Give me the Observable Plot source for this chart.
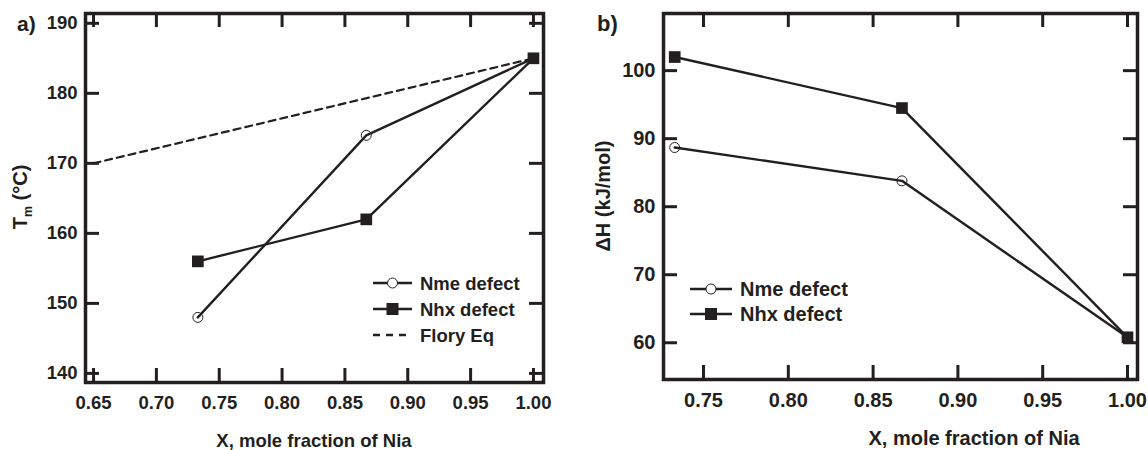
<!DOCTYPE html>
<html><head><meta charset="utf-8">
<script src="https://cdn.jsdelivr.net/npm/d3@7"></script>
<script src="https://cdn.jsdelivr.net/npm/@observablehq/plot@0.6"></script>
<style>
body{margin:0;background:#fff;}
#wrap{display:flex;width:1148px;height:450px;}
.panel{position:relative;width:574px;height:450px;}
.panel svg{display:block;}
</style></head><body>
<div id="wrap"><div class="panel" id="pa"></div><div class="panel" id="pb"></div></div>
<script>
// ---- data ----
const xMole = [0.733, 0.867, 1.0];
const tmNme = [148, 174, 185];
const tmNhx = [156, 162, 185];
const floryX = [0.65, 1.0];
const floryTm = [170, 185];
const dhNme = [88.7, 83.8, 60.8];
const dhNhx = [102, 94.5, 60.8];
const xTicksA = [0.65, 0.70, 0.75, 0.80, 0.85, 0.90, 0.95, 1.00];
const yTicksA = [140, 150, 160, 170, 180, 190];
const xTicksB = [0.75, 0.80, 0.85, 0.90, 0.95, 1.00];
const yTicksB = [60, 70, 80, 90, 100];
const namesA = ["Nme defect", "Nhx defect", "Flory Eq"];
const namesB = ["Nme defect", "Nhx defect"];
const xTitle = "X, mole fraction of Nia";
const panelLabels = ["a)", "b)"];

const ink = "#231f20";
const FONT = "'Liberation Sans', Arial, sans-serif";
const TL = 14; // inward tick length

function rows(xs, ys) { return xs.map((x, i) => ({x, y: ys[i]})); }

function frameAxes(xt, yt, fs, fw, fh) {
  const fmt = d3.format(".2f");
  const tk = {stroke: ink, strokeWidth: 3};
  return [
    Plot.axisX(xt, {anchor: "bottom", tickSize: 0, tickPadding: 13, tickFormat: fmt, label: null, fontSize: fs, fontWeight: "bold", fill: ink}),
    Plot.axisY(yt, {anchor: "left", tickSize: 0, tickPadding: 8, label: null, fontSize: fs, fontWeight: "bold", fill: ink}),
    Plot.tickX(xt, {x: d => d, insetTop: fh - TL, ...tk}),
    Plot.tickX(xt, {x: d => d, insetBottom: fh - TL, ...tk}),
    Plot.tickY(yt, {y: d => d, insetRight: fw - TL, ...tk}),
    Plot.tickY(yt, {y: d => d, insetLeft: fw - TL, ...tk}),
    Plot.frame({stroke: ink, strokeWidth: 3.5, fill: "none"})
  ];
}

function legend(svg, names, x0, x1, tx, ys, fs) {
  const g = d3.select(svg).append("g");
  names.forEach((name, i) => {
    const y = ys[i];
    const ln = g.append("line").attr("x1", x0).attr("x2", x1).attr("y1", y).attr("y2", y)
      .attr("stroke", ink).attr("stroke-width", 2.4);
    const cx = (x0 + x1) / 2;
    if (i === 0) {
      g.append("circle").attr("cx", cx).attr("cy", y).attr("r", 5).attr("fill", "white").attr("stroke", ink).attr("stroke-width", 1);
    } else if (i === 1) {
      g.append("rect").attr("x", cx - 6).attr("y", y - 6).attr("width", 12).attr("height", 12).attr("fill", ink);
    } else {
      ln.attr("stroke-dasharray", "7,6");
    }
    g.append("text").attr("x", tx).attr("y", y).attr("dy", "0.36em").attr("text-anchor", "start")
      .attr("font-size", fs).attr("font-weight", "bold")
      .attr("font-family", FONT).attr("fill", ink).text(name);
  });
}

function addTitles(svg, label, lx, ly, lfs, ytParts, ytx, yty, yfs, xcx, xty, xfs) {
  const s = d3.select(svg);
  s.append("text").attr("x", lx).attr("y", ly).attr("text-anchor", "start").attr("font-size", lfs).attr("font-weight", "bold")
    .attr("font-family", FONT).attr("fill", ink).text(label);
  const t = s.append("text").attr("transform", `translate(${ytx},${yty}) rotate(-90)`).attr("text-anchor", "middle")
    .attr("dy", "0.36em").attr("font-size", yfs).attr("font-weight", "bold").attr("font-family", FONT).attr("fill", ink);
  ytParts.forEach(p => {
    const ts = t.append("tspan").text(p.t);
    if (p.sub) ts.attr("font-size", yfs * 0.62).attr("dy", "0.35em");
    if (p.after) ts.attr("dy", "-0.22em");
  });
  s.append("text").attr("x", xcx).attr("y", xty).attr("text-anchor", "middle").attr("font-size", xfs).attr("font-weight", "bold")
    .attr("font-family", FONT).attr("fill", ink).text(xTitle);
}

// ---- panel a ----
const fsA = 18.5;
const mA = {l: 85, r: 31, t: 13, b: 68};
const plotA = Plot.plot({
  width: 574, height: 450,
  marginLeft: mA.l, marginRight: mA.r, marginTop: mA.t, marginBottom: mA.b,
  style: {fontFamily: FONT, fontSize: fsA + "px", fontWeight: "bold", color: ink, background: "white"},
  x: {domain: [0.6436, 1.008]},
  y: {domain: [138.7, 191.4]},
  marks: [
    Plot.line(rows(floryX, floryTm), {x: "x", y: "y", stroke: ink, strokeWidth: 2.2, strokeDasharray: "7,5"}),
    Plot.line(rows(xMole, tmNme), {x: "x", y: "y", stroke: ink, strokeWidth: 2.4}),
    Plot.line(rows(xMole, tmNhx), {x: "x", y: "y", stroke: ink, strokeWidth: 2.4}),
    Plot.dot(rows(xMole, tmNme), {x: "x", y: "y", r: 5, stroke: ink, strokeWidth: 1, fill: "none"}),
    Plot.dot(rows(xMole, tmNhx), {x: "x", y: "y", r: 6.6, symbol: "square", fill: ink, stroke: "none"}),
    ...frameAxes(xTicksA, yTicksA, fsA, 574 - mA.l - mA.r, 450 - mA.t - mA.b)
  ]
});
addTitles(plotA, panelLabels[0], 17, 31, 21,
  [{t: "T"}, {t: "m", sub: true}, {t: " (°C)", after: true}], 20, 197, 20, 314, 447, fsA);
legend(plotA, namesA, 373, 412, 420, [283, 309, 335], fsA);
document.getElementById("pa").appendChild(plotA);

// ---- panel b ----
const fsB = 20;
const mB = {l: 89, r: 11, t: 13, b: 71};
const plotB = Plot.plot({
  width: 574, height: 450,
  marginLeft: mB.l, marginRight: mB.r, marginTop: mB.t, marginBottom: mB.b,
  style: {fontFamily: FONT, fontSize: fsB + "px", fontWeight: "bold", color: ink, background: "white"},
  x: {domain: [0.7264, 1.0059]},
  y: {domain: [54.6, 108.4]},
  marks: [
    Plot.line(rows(xMole, dhNme), {x: "x", y: "y", stroke: ink, strokeWidth: 2.4}),
    Plot.line(rows(xMole, dhNhx), {x: "x", y: "y", stroke: ink, strokeWidth: 2.4}),
    Plot.dot(rows(xMole, dhNme), {x: "x", y: "y", r: 5, stroke: ink, strokeWidth: 1, fill: "none"}),
    Plot.dot(rows(xMole, dhNhx), {x: "x", y: "y", r: 6.6, symbol: "square", fill: ink, stroke: "none"}),
    ...frameAxes(xTicksB, yTicksB, fsB, 574 - mB.l - mB.r, 450 - mB.t - mB.b)
  ]
});
addTitles(plotB, panelLabels[1], 23, 31, 22,
  [{t: "ΔH (kJ/mol)"}], 29, 196, 20, 400, 445, fsB);
legend(plotB, namesB, 116, 158, 166, [289, 314], fsB);
document.getElementById("pb").appendChild(plotB);
</script>
</body></html>
